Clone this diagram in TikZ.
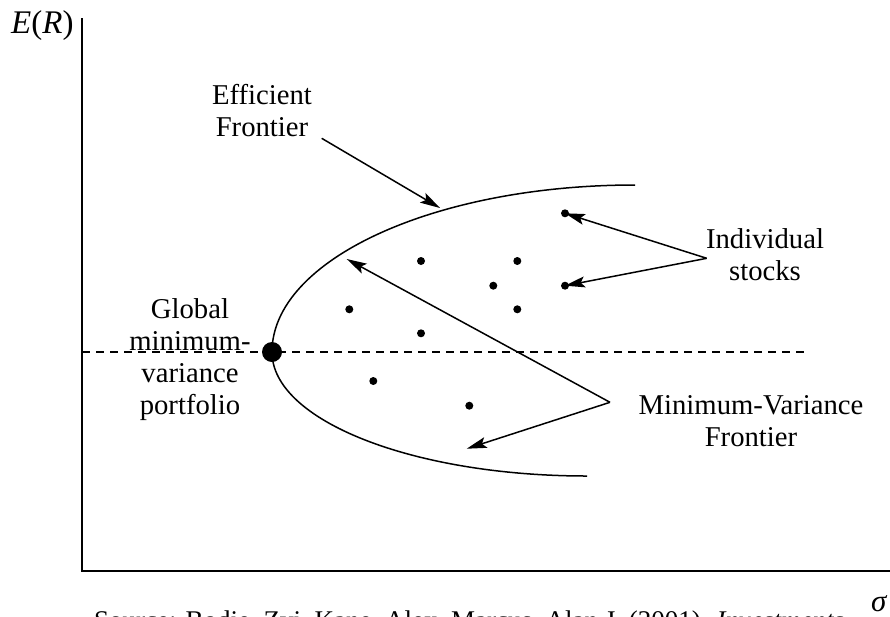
\documentclass[tikz,border=0pt]{standalone}
\usepackage{fontspec}
\setmainfont{Liberation Serif}
\usetikzlibrary{arrows.meta}
\begin{document}
\begin{tikzpicture}[x=1pt,y=-1pt,
  lbl/.style={inner sep=0pt, align=center, font=\fontsize{28.7}{32}\selectfont},
  ax/.style={line width=1.8pt},
  curve/.style={line width=1.5pt},
  dashline/.style={line width=1.4pt, dash pattern=on 8pt off 6pt},
  ptr/.style={line width=1.5pt, -{Stealth[length=20pt,width=11pt,inset=4pt]}},
  sdot/.style={circle, fill=black, inner sep=0pt, minimum size=8pt},
  bigdot/.style={circle, fill=black, inner sep=0pt, minimum size=20pt}]
\useasboundingbox (0,0) rectangle (890,616);
% axes
\coordinate (ytop) at (82,18);
\coordinate (O) at (82,570.7);
\coordinate (xend) at (892,570.7);
\draw[ax, line join=miter] (ytop) -- (O) -- (xend);
\node[inner sep=0pt, anchor=base west, font=\fontsize{33}{36}\selectfont] (ylab) at (11,33) {\textit{E}(\textit{R})};
\node[inner sep=0pt, anchor=base west, font=\fontsize{31}{34}\selectfont] (xlab) at (871,611) {\textit{σ}};
% caption (cut by the page edge, as in the reference)
\node[inner sep=0pt, anchor=base west, font=\fontsize{27}{32}\selectfont] (src) at (94,629) {Source: Bodie, Zvi, Kane, Alex, Marcus, Alan J. (2001). \textit{Investments}};
% dashed level of the global minimum-variance portfolio
\coordinate (dstart) at (82,352);
\coordinate (dend) at (805,352);
\draw[dashline] (dstart) -- (dend);
% frontier
\node[bigdot] (gmv) at (272,352) {};
\draw[curve] (gmv.center) arc[start angle=180, end angle=270, x radius=363, y radius=167];
\draw[curve] (gmv.center) arc[start angle=180, end angle=90, x radius=315, y radius=124];
% individual stocks
\node[sdot] (d1) at (565,213.3) {};
\node[sdot] (d2) at (421,261) {};
\node[sdot] (d3) at (517.3,261) {};
\node[sdot] (d4) at (493.3,285.7) {};
\node[sdot] (d5) at (565,285.7) {};
\node[sdot] (d6) at (349.3,309.3) {};
\node[sdot] (d7) at (517.3,309.3) {};
\node[sdot] (d8) at (421,333.3) {};
\node[sdot] (d9) at (373.3,381) {};
\node[sdot] (d10) at (469.3,405.7) {};
% labels (anchor base = baseline of the last line)
\node[lbl, anchor=base] (eff) at (262,136) {Efficient\\Frontier};
\node[lbl, anchor=base] (ind) at (765,280) {Individual\\stocks};
\node[lbl, anchor=base] (glob) at (190,414) {Global\\minimum-\\variance\\portfolio};
\node[lbl, anchor=base] (mvf) at (751,446) {Minimum-Variance\\Frontier};
% pointers
\coordinate (effS) at (321.7,138.3);
\coordinate (effE) at (440,208);
\coordinate (indS) at (706.7,258.3);
\coordinate (mvS) at (610,402.3);
\coordinate (mvE1) at (346.7,259);
\coordinate (mvE2) at (466.7,448.7);
\draw[ptr] (effS) -- (effE);
\draw[ptr] (indS) -- (d1.center);
\draw[ptr] (indS) -- (d5.center);
\draw[ptr] (mvS) -- (mvE1);
\draw[ptr] (mvS) -- (mvE2);
\end{tikzpicture}
\end{document}
